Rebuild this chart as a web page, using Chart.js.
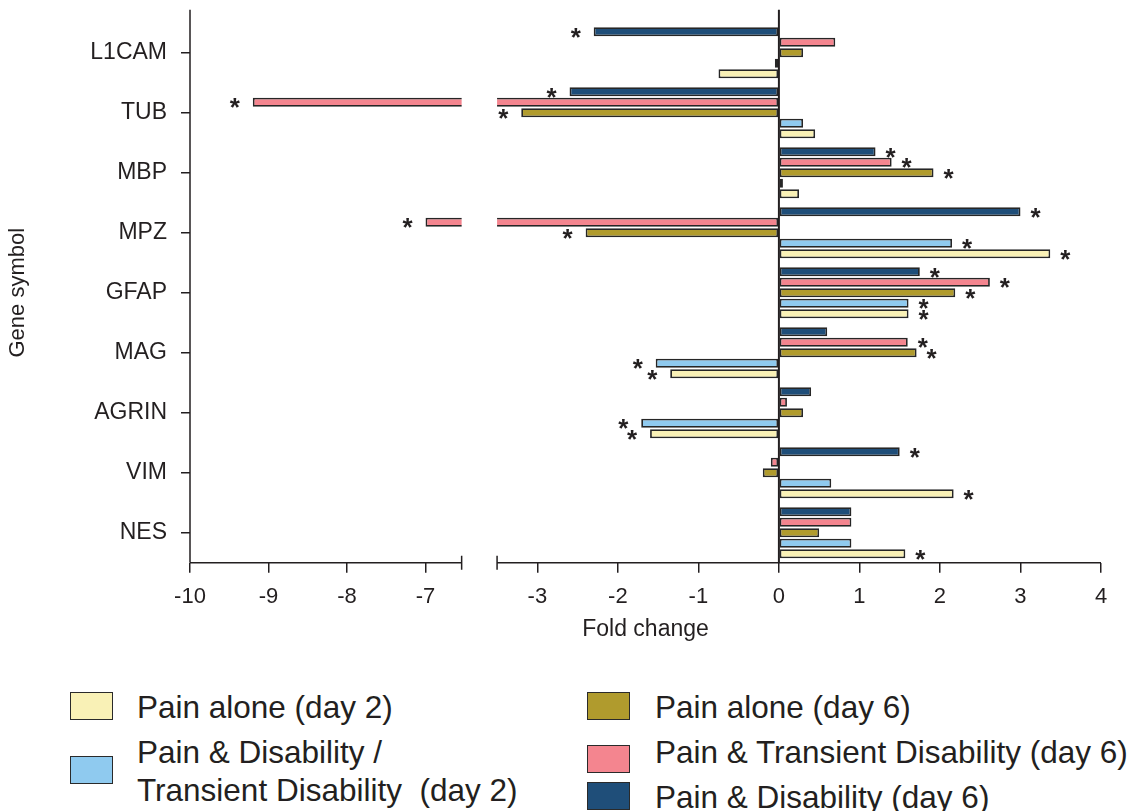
<!DOCTYPE html>
<html lang="en">
<head>
<meta charset="UTF-8">
<title>Fold change by gene symbol</title>
<script src="https://cdn.jsdelivr.net/npm/chart.js"></script>
<style>
  body { margin: 0; background: #fff; font-family: Arial, "Liberation Sans", sans-serif; color: #231f20; }
  .wrap { position: relative; width: 1128px; height: 811px; overflow: hidden; }
  #chart { position: absolute; left: 0; top: 0; }
  .sw { position: absolute; box-sizing: border-box; width: 43px; height: 28px; border: 1.5px solid #2a2a2a; }
  .lt { position: absolute; font-size: 31.5px; line-height: 38px; white-space: pre; }
</style>
</head>
<body>
<div class="wrap" id="wrap">
  <canvas id="chart" width="1128" height="650"></canvas>
</div>

<script>
// gene symbols, top to bottom
const genes = ['L1CAM', 'TUB', 'MBP', 'MPZ', 'GFAP', 'MAG', 'AGRIN', 'VIM', 'NES'];

// fold change per group (bars drawn top to bottom in this order inside each gene)
const painDisabilityD6  = [-2.3, -2.6, 1.2, 3.0, 1.75, 0.6, 0.4, 1.5, 0.9];
const painTransientD6   = [0.7, -9.2, 1.4, -7.0, 2.62, 1.6, 0.1, -0.1, 0.9];
const painAloneD6       = [0.3, -3.2, 1.92, -2.4, 2.19, 1.71, 0.3, -0.2, 0.5];
const painDisabilityD2  = [-0.05, 0.3, 0.05, 2.15, 1.61, -1.53, -1.71, 0.65, 0.9];
const painAloneD2       = [-0.75, 0.45, 0.25, 3.37, 1.61, -1.35, -1.6, 2.17, 1.57];

// significance markers (*)
const sigDisabilityD6 = [1, 1, 1, 1, 1, 0, 0, 1, 0];
const sigTransientD6  = [0, 1, 1, 1, 1, 1, 0, 0, 0];
const sigAloneD6      = [0, 1, 1, 1, 1, 1, 0, 0, 0];
const sigDisabilityD2 = [0, 0, 0, 1, 1, 1, 1, 0, 0];
const sigAloneD2      = [0, 0, 0, 1, 1, 1, 1, 1, 1];

const xTicks = [-10, -9, -8, -7, -3, -2, -1, 0, 1, 2, 3, 4];

const INK = '#231f20';
const C_YELLOW = '#f9f1b6', C_LBLUE = '#8fcaef', C_OLIVE = '#b09b2d', C_PINK = '#f4858f', C_NAVY = '#1f4e79';

// broken x axis: left piece -10 .. -6.54, right piece -3.5 .. 4
const BREAK_LO = -6.54, BREAK_HI = -3.5;
const GAP_LO = -3.94;    // where the left piece ends on the drawn scale
const LEFT_K = 0.975;    // left piece is drawn a bit tighter
function toAxis(v) {
    return v < BREAK_HI ? GAP_LO + (v - BREAK_LO) * LEFT_K : v;
}

const series = [
    { label: 'Pain & Disability (day 6)', data: painDisabilityD6, color: C_NAVY, sig: sigDisabilityD6 },
    { label: 'Pain & Transient Disability (day 6)', data: painTransientD6, color: C_PINK, sig: sigTransientD6 },
    { label: 'Pain alone (day 6)', data: painAloneD6, color: C_OLIVE, sig: sigAloneD6 },
    { label: 'Pain & Disability /\nTransient Disability  (day 2)', data: painDisabilityD2, color: C_LBLUE, sig: sigDisabilityD2 },
    { label: 'Pain alone (day 2)', data: painAloneD2, color: C_YELLOW, sig: sigAloneD2 }
];

Chart.defaults.font.family = 'Arial, "Liberation Sans", sans-serif';
Chart.defaults.color = INK;

// gap, zero line, axis lines and asterisks
const brokenAxis = {
    id: 'brokenAxis',
    afterDatasetsDraw(chart) {
        const { ctx, chartArea: a, scales: { x } } = chart;
        const g0 = x.getPixelForValue(GAP_LO), g1 = x.getPixelForValue(BREAK_HI);
        ctx.save();
        ctx.fillStyle = '#fff';
        ctx.fillRect(g0, a.top - 16, g1 - g0, a.bottom - a.top + 15);

        ctx.fillStyle = INK;
        ctx.font = 'bold 26px Arial, "Liberation Sans", sans-serif';
        ctx.textAlign = 'center';
        ctx.textBaseline = 'alphabetic';
        series.forEach((s, di) => {
            const meta = chart.getDatasetMeta(di);
            s.sig.forEach((flag, i) => {
                if (!flag) return;
                const bar = meta.data[i];
                const pos = bar.x > bar.base;
                ctx.fillText('*', bar.x + (pos ? 15 : -18), bar.y + 14);
            });
        });

        ctx.strokeStyle = INK;
        ctx.lineWidth = 1.5;
        ctx.beginPath();
        // y axis
        ctx.moveTo(a.left, a.top - 13);
        ctx.lineTo(a.left, a.bottom);
        // x axis in two pieces, with caps at the break
        ctx.moveTo(a.left, a.bottom);
        ctx.lineTo(g0, a.bottom);
        ctx.moveTo(g1, a.bottom);
        ctx.lineTo(a.right, a.bottom);
        ctx.moveTo(g0, a.bottom - 7);
        ctx.lineTo(g0, a.bottom + 7);
        ctx.moveTo(g1, a.bottom - 7);
        ctx.lineTo(g1, a.bottom + 7);
        ctx.stroke();

        // zero line
        const z = x.getPixelForValue(0);
        ctx.lineWidth = 2;
        ctx.beginPath();
        ctx.moveTo(z, a.top - 13);
        ctx.lineTo(z, a.bottom);
        ctx.stroke();
        ctx.restore();
    }
};

new Chart(document.getElementById('chart'), {
    type: 'bar',
    data: {
        labels: genes,
        datasets: series.map(s => ({
            label: s.label,
            data: s.data.map(toAxis),
            backgroundColor: s.color,
            borderColor: '#262626',
            borderWidth: 1.8,
            borderSkipped: false,
            barPercentage: 0.86,
            categoryPercentage: 0.875
        }))
    },
    options: {
        indexAxis: 'y',
        responsive: false,
        animation: false,
        events: [],
        layout: { padding: { top: 22.7, right: 27, left: 0, bottom: 0 } },
        plugins: { legend: { display: false }, tooltip: { enabled: false } },
        scales: {
            x: {
                type: 'linear',
                min: toAxis(-10),
                max: 4,
                afterBuildTicks: (scale) => { scale.ticks = xTicks.map(v => ({ value: toAxis(v) })); },
                afterFit: (scale) => { scale.height = 650 - 562.7; },
                border: { display: false },
                grid: { drawOnChartArea: false, drawTicks: true, tickLength: 10, color: INK, lineWidth: 1.5 },
                ticks: {
                    autoSkip: false, maxRotation: 0, padding: 11,
                    font: { size: 22 }, color: INK,
                    callback: (val, i) => String(xTicks[i])
                },
                title: { display: true, text: 'Fold change', font: { size: 23 }, color: INK, padding: { top: 0, bottom: 7 } }
            },
            y: {
                afterFit: (scale) => {
                    scale.width = 190;
                    scale.paddingTop = 0;
                    scale.paddingBottom = 0;
                },
                border: { display: false },
                grid: { drawOnChartArea: false, drawTicks: true, tickLength: 9, offset: false, color: INK, lineWidth: 1.5 },
                ticks: { padding: 14, font: { size: 23 }, color: INK },
                title: { display: true, text: 'Gene symbol', font: { size: 22 }, color: INK, padding: { top: 5, bottom: 0 } }
            }
        }
    },
    plugins: [brokenAxis]
});

// legend, two columns as in the figure
const legendPlaces = [
    { s: 4, left: 70, top: 692, tx: 137, ty: 688 },
    { s: 3, left: 70, top: 756, tx: 137, ty: 733 },
    { s: 2, left: 587, top: 692, tx: 655, ty: 688 },
    { s: 1, left: 587, top: 745, tx: 655, ty: 733 },
    { s: 0, left: 587, top: 782, tx: 655, ty: 778 }
];
const wrap = document.getElementById('wrap');
legendPlaces.forEach(p => {
    const sw = document.createElement('div');
    sw.className = 'sw';
    sw.style.left = p.left + 'px';
    sw.style.top = p.top + 'px';
    sw.style.background = series[p.s].color;
    wrap.appendChild(sw);
    const t = document.createElement('div');
    t.className = 'lt';
    t.style.left = p.tx + 'px';
    t.style.top = p.ty + 'px';
    t.textContent = series[p.s].label;
    wrap.appendChild(t);
});
</script>
</body>
</html>
